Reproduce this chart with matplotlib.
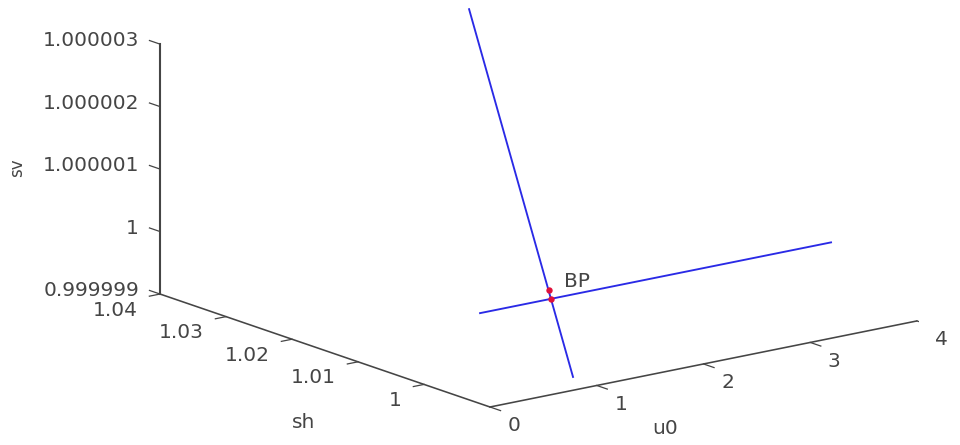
import matplotlib
matplotlib.use("Agg")
import matplotlib.pyplot as plt
from mpl_toolkits.mplot3d import proj3d

# Values
u0_ticks = [0, 1, 2, 3, 4]
sh_ticks = [1, 1.01, 1.02, 1.03, 1.04]
sv_ticks = [0.999999, 1.0, 1.000001, 1.000002, 1.000003]
sh_labels = ["1", "1.01", "1.02", "1.03", "1.04"]
sv_labels = ["0.999999", "1", "1.000001", "1.000002", "1.000003"]
u0_limits = (0, 4)
sh_limits = (0.99, 1.04)
sv_limits = (0.999999, 1.000003)

branch1_u0 = [0.525, 3.813]
branch1_sh = [1.0, 1.0]
branch1_sv = [0.99999996, 0.99999996]

branch2_u0 = [1.19, 1.19]
branch2_sh = [0.99667, 1.01242]
branch2_sv = [0.99999883, 1.000004147]

points_u0 = [1.19, 1.19]
points_sh = [1.0, 1.0003]
points_sv = [0.99999996, 1.00000009]

W, H = 960, 445
INK = "#454545"
FONT = "DejaVu Sans"
TICK_SIZE = 14.5

fig = plt.figure(figsize=(W / 100, H / 100), dpi=100, facecolor="white")
S0 = 900
ax = fig.add_axes([(W - S0) / 2 / W, (H - S0) / 2 / H, S0 / W, S0 / H],
                  projection="3d", proj_type="ortho")
ax.set_box_aspect((538.2, 542, 259))
ax.view_init(elev=15.23, azim=-127.5)
ax.set_xlim(*u0_limits, view_margin=0)
ax.set_ylim(*sh_limits, view_margin=0)
ax.set_zlim(*sv_limits, view_margin=0)
ax.set_axis_off()
ax.patch.set_alpha(0)


def to_pixels(x, y, z):
    xp, yp, _ = proj3d.proj_transform(x, y, z, ax.get_proj())
    return ax.transData.transform((xp, yp))


# Scale and place the square 3D box so the axis corners land where they should
fig.canvas.draw()
a = to_pixels(u0_limits[0], sh_limits[0], sv_limits[0])
b = to_pixels(u0_limits[1], sh_limits[0], sv_limits[0])
S = S0 * 427 / (b[0] - a[0])
ax.set_position([(W - S) / 2 / W, (H - S) / 2 / H, S / W, S / H])
fig.canvas.draw()
a = to_pixels(u0_limits[0], sh_limits[0], sv_limits[0])
dx, dy = 490 - a[0], (H - 407) - a[1]
ax.set_position([((W - S) / 2 + dx) / W, ((H - S) / 2 + dy) / H, S / W, S / H])
fig.canvas.draw()

# Axis lines
u_lo, u_hi = u0_limits
s_lo, s_hi = sh_limits
v_lo, v_hi = sv_limits
axis_style = dict(color=INK, lw=1.15, solid_capstyle="round")
ax.plot([u_lo, u_hi], [s_lo, s_lo], [v_lo, v_lo], **axis_style)
ax.plot([u_lo, u_lo], [s_lo, s_hi], [v_lo, v_lo], **axis_style)
ax.plot([u_lo, u_lo], [s_hi, s_hi], [v_lo, v_hi], lw=1.5, color=INK)

# Ticks and their labels
u_len = 0.1
s_len = 0.0016
tick_style = dict(color=INK, lw=0.9)
label_style = dict(textcoords="offset pixels", color=INK, family=FONT,
                   fontsize=TICK_SIZE, annotation_clip=False, va="center")


def label(text, point, offset, ha):
    xy = ax.transData.inverted().transform(point)
    ax.annotate(text, xy=xy, xytext=offset, ha=ha, **label_style)


for u in u0_ticks:
    ax.plot([u, u], [s_lo, s_lo - s_len], [v_lo, v_lo], **tick_style)
    label(str(u), to_pixels(u, s_lo, v_lo), (24, -19), "center")

for s, text in zip(sh_ticks, sh_labels):
    ax.plot([u_lo, u_lo - u_len], [s, s], [v_lo, v_lo], **tick_style)
    label(text, to_pixels(u_lo, s, v_lo), (-22, -16), "right")

for v, text in zip(sv_ticks, sv_labels):
    ax.plot([u_lo, u_lo], [s_hi, s_hi + s_len], [v, v], **tick_style)
    label(text, to_pixels(u_lo, s_hi, v), (-21, 3.5), "right")

# Data
ax.plot(branch1_u0, branch1_sh, branch1_sv, color="#2a2ae6", lw=1.35)
ax.plot(branch2_u0, branch2_sh, branch2_sv, color="#2a2ae6", lw=1.35)
ax.plot(points_u0, points_sh, points_sv, ls="none", marker="o", ms=4.6,
        color="#e0103a", mec="none", zorder=10)

bp = to_pixels(points_u0[0], points_sh[0], points_sv[0])
label("BP", bp, (26, 17), "center")

# Axis titles
fig.text(304 / W, 1 - 423 / H, "sh", color=INK, family=FONT, fontsize=TICK_SIZE,
         ha="center", va="center")
fig.text(665 / W, 1 - 429 / H, "u0", color=INK, family=FONT, fontsize=TICK_SIZE,
         ha="center", va="center")
fig.text(17 / W, 1 - 168 / H, "sv", color=INK, family=FONT, fontsize=12,
         ha="center", va="center", rotation=90)

fig.savefig("out.png", dpi=100, facecolor="white")
